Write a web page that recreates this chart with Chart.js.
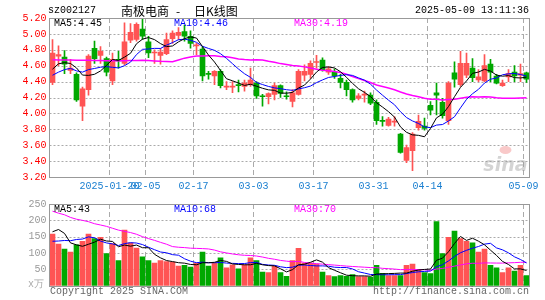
<!DOCTYPE html>
<html>
<head>
<meta charset="utf-8">
<script src="https://cdn.jsdelivr.net/npm/chart.js@4.4.1/dist/chart.umd.min.js"></script>
<style>
body { margin: 0; background: #fff; }
#wrap { position: relative; width: 545px; height: 300px; overflow: hidden; font-family: 'Liberation Mono', monospace; font-size: 10px; }
.t { position: absolute; white-space: pre; line-height: 12px; }
.cjk { font-family: 'Noto Sans CJK SC', sans-serif; font-size: 12px; line-height: 14px; }
canvas { position: absolute; left: 0; }
</style>
</head>
<body>
<div id="wrap">
  <canvas id="kline" width="545" height="195" style="top:0"></canvas>
  <canvas id="vol" width="545" height="105" style="top:195px"></canvas>
  <div class="t" style="left:48px;top:5px">sz002127</div>
  <div class="t cjk" style="left:121px;top:4px">南极电商</div>
  <div class="t cjk" style="left:176px;top:4px">-</div>
  <div class="t cjk" style="left:194px;top:4px">日K线图</div>
  <div class="t" style="right:16px;top:5px">2025-05-09 13:11:36</div>
  <div class="t" style="left:28px;top:279px;color:#aaa">x万</div>
  <div class="t" style="left:50px;top:286px;color:#666">Copyright 2025 SINA.COM</div>
  <div class="t" style="right:16px;top:286px;color:#666">http://finance.sina.com.cn</div>
</div>
<script>
// trading days 2025-01-06 .. 2025-05-09
const dates = [
  '01-06','01-07','01-08','01-09','01-10','01-13','01-14','01-15','01-16','01-17',
  '01-20','01-21','01-22','01-23','01-24','01-27','02-05','02-06','02-07','02-10',
  '02-11','02-12','02-13','02-14','02-17','02-18','02-19','02-20','02-21','02-24',
  '02-25','02-26','02-27','02-28','03-03','03-04','03-05','03-06','03-07','03-10',
  '03-11','03-12','03-13','03-14','03-17','03-18','03-19','03-20','03-21','03-24',
  '03-25','03-26','03-27','03-28','03-31','04-01','04-02','04-03','04-07','04-08',
  '04-09','04-10','04-11','04-14','04-15','04-16','04-17','04-18','04-21','04-22',
  '04-23','04-24','04-25','04-28','04-29','04-30','05-06','05-07','05-08','05-09'
];
const tickDates = ['01-20','02-05','02-17','03-03','03-17','03-31','04-14','05-09'];
const tickText  = ['2025-01-20','02-05','02-17','03-03','03-17','03-31','04-14','05-09'];

const opens = [
  4.39,4.72,4.71,4.54,4.49,4.09,4.30,4.82,4.73,4.69,
  4.41,4.68,4.63,4.92,4.93,5.06,4.90,4.76,4.73,4.75,
  4.94,4.98,5.03,4.97,4.85,4.81,4.50,4.47,4.53,4.33,
  4.33,4.36,4.34,4.36,4.38,4.22,4.21,4.24,4.35,4.22,
  4.15,4.24,4.48,4.49,4.64,4.67,4.52,4.52,4.44,4.39,
  4.30,4.19,4.23,4.23,4.14,3.91,3.85,3.89,3.74,3.41,
  3.53,3.82,3.84,4.10,4.26,4.14,3.91,4.51,4.36,4.48,
  4.57,4.42,4.41,4.62,4.47,4.35,4.46,4.52,4.48,4.51
];
const highs = [
  4.93,4.85,4.79,4.68,4.51,4.33,4.74,4.91,4.84,4.71,
  4.76,4.78,5.14,5.13,5.14,5.20,4.97,4.80,4.82,5.01,
  5.04,5.08,5.11,5.04,4.88,4.84,4.53,4.54,4.55,4.40,
  4.40,4.42,4.42,4.57,4.40,4.24,4.26,4.38,4.36,4.27,
  4.30,4.55,4.61,4.66,4.73,4.70,4.59,4.56,4.49,4.42,
  4.31,4.25,4.28,4.26,4.17,3.96,3.95,3.96,3.75,3.60,
  3.76,3.98,3.94,4.15,4.38,4.19,4.40,4.65,4.78,4.76,
  4.69,4.55,4.74,4.68,4.49,4.42,4.55,4.60,4.62,4.52
];
const lows = [
  4.36,4.60,4.50,4.50,4.15,3.91,4.23,4.63,4.63,4.47,
  4.36,4.57,4.61,4.89,4.91,4.93,4.70,4.63,4.62,4.74,
  4.88,4.93,4.91,4.82,4.74,4.41,4.43,4.36,4.32,4.30,
  4.26,4.27,4.28,4.34,4.19,4.09,4.12,4.17,4.20,4.18,
  4.08,4.23,4.41,4.44,4.57,4.53,4.49,4.44,4.32,4.22,
  4.14,4.17,4.14,4.11,3.86,3.84,3.84,3.84,3.50,3.38,
  3.28,3.79,3.79,3.98,3.98,3.94,3.86,4.33,4.34,4.45,
  4.40,4.40,4.40,4.40,4.37,4.34,4.40,4.40,4.40,4.39
];
const closes = [
  4.76,4.74,4.62,4.57,4.17,4.31,4.72,4.69,4.78,4.52,
  4.68,4.66,4.90,5.02,5.12,4.97,4.76,4.77,4.77,4.93,
  5.01,5.02,4.97,4.88,4.86,4.47,4.49,4.53,4.35,4.34,
  4.34,4.35,4.38,4.42,4.22,4.21,4.25,4.35,4.25,4.21,
  4.26,4.53,4.53,4.63,4.65,4.55,4.56,4.47,4.39,4.30,
  4.17,4.22,4.24,4.13,3.91,3.90,3.93,3.90,3.51,3.57,
  3.74,3.90,3.81,4.04,4.23,3.97,4.38,4.43,4.63,4.63,
  4.45,4.46,4.60,4.52,4.38,4.38,4.50,4.47,4.50,4.43
];
// closes before the window, only used for the moving averages
const preCloses = [
  4.80,4.62,4.60,4.25,4.30,4.78,4.72,4.80,4.60,4.70,
  4.70,4.85,4.98,5.05,4.95,4.82,4.90,4.95,5.02,5.05,
  4.35,4.30,4.42,4.48,4.47,4.40,4.55,4.62,4.45
];
// volume, 万
const volumes = [
  158,127,112,103,125,136,158,144,148,98,
  129,77,170,131,115,88,77,69,77,74,
  72,60,62,57,69,103,60,69,85,55,
  64,52,64,85,77,42,40,60,40,29,
  77,114,69,69,66,42,31,28,31,29,
  34,28,28,26,62,38,31,31,31,62,
  66,50,40,37,196,98,148,167,144,136,
  131,103,112,62,55,40,55,45,62,31
];
const preVolumes = [
  310,260,345,290,240,280,330,265,225,300,
  250,285,240,270,310,255,230,260,245,290,
  120,95,110,88,122,92,172,248,155
];
const priceLabels = [['MA5:4.45', '#000000', 54], ['MA10:4.46', '#0000ff', 174], ['MA30:4.19', '#ff00ff', 294]];
const volLabels = [['MA5:43', '#000000', 54], ['MA10:68', '#0000ff', 174], ['MA30:70', '#ff00ff', 294]];

const RED = '#ff5454';
const GREEN = '#00a800';
const FONT = { family: 'Liberation Mono', size: 10 };

function movingAvg(pre, vals, n) {
    const all = pre.concat(vals);
    return vals.map((v, i) => {
        const end = pre.length + i;
        let s = 0;
        for (let k = end - n + 1; k <= end; k++) s += all[k];
        return s / n;
    });
}

const tickIdx = tickDates.map(d => dates.indexOf(d));
const colors = closes.map((c, i) => c >= opens[i] ? RED : GREEN);

const framePlugin = {
    id: 'frame',
    beforeDatasetsDraw(chart, args, opts) {
        const { ctx, chartArea: a, scales } = chart;
        const x = scales.x, y = scales.y;
        ctx.save();
        ctx.lineWidth = 1;
        ctx.strokeStyle = '#aaaaaa';
        ctx.setLineDash([2, 2]);
        y.ticks.forEach(t => {
            if (t.value <= y.min || t.value >= y.max) return;
            const py = Math.round(y.getPixelForValue(t.value)) + 0.5;
            ctx.beginPath(); ctx.moveTo(a.left, py); ctx.lineTo(a.right, py); ctx.stroke();
        });
        ctx.setLineDash([5, 3]);
        tickIdx.forEach(i => {
            const px = Math.floor(x.getPixelForValue(i) - 3) + 0.5;
            ctx.beginPath(); ctx.moveTo(px, a.top); ctx.lineTo(px, a.bottom); ctx.stroke();
        });
        ctx.setLineDash([]);
        if (opts.watermark) {
            ctx.font = 'italic bold 19px "DejaVu Sans"';
            ctx.fillStyle = 'rgba(160,160,160,0.45)';
            ctx.textAlign = 'right';
            ctx.textBaseline = 'alphabetic';
            ctx.fillText('sina', a.right - 2, a.bottom - 6);
            ctx.fillStyle = 'rgba(240,120,120,0.4)';
            ctx.beginPath(); ctx.ellipse(a.right - 24, a.bottom - 27, 6, 4, 0, 0, Math.PI * 2); ctx.fill();
        }
        ctx.restore();
    },
    afterDraw(chart, args, opts) {
        const { ctx, chartArea: a } = chart;
        ctx.save();
        ctx.strokeStyle = '#999999';
        ctx.lineWidth = 1;
        const l = Math.floor(a.left) + 0.5, t = Math.round(a.top) + 0.5;
        const r = Math.floor(a.right) + 0.5, b = Math.round(a.bottom) + 0.5;
        ctx.strokeRect(l, t, r - l, b - t);
        ctx.font = '10px "Liberation Mono"';
        ctx.textBaseline = 'middle';
        (opts.labels || []).forEach(([txt, col, px]) => {
            ctx.fillStyle = col;
            ctx.fillText(txt, px, a.top + 5);
        });
        ctx.restore();
    }
};

function lineSet(data, color, width) {
    return { type: 'line', data: data, borderColor: color, borderWidth: width, pointRadius: 0, tension: 0, order: 0 };
}

new Chart(document.getElementById('kline'), {
    type: 'bar',
    data: {
        labels: dates,
        datasets: [
            lineSet(movingAvg(preCloses, closes, 5), '#000000', 1),
            lineSet(movingAvg(preCloses, closes, 10), '#0000ff', 1),
            lineSet(movingAvg(preCloses, closes, 30), '#ff00ff', 1.5),
            {
                data: opens.map((o, i) => [o, closes[i]]),
                backgroundColor: colors, barThickness: 5, grouped: false, minBarLength: 1, order: 1
            },
            {
                data: lows.map((l, i) => [l, highs[i]]),
                backgroundColor: colors, barThickness: 1, grouped: false, order: 2
            }
        ]
    },
    options: {
        responsive: false,
        animation: false,
        layout: { padding: { top: 18, right: 15.5, left: 0, bottom: 0 } },
        plugins: { legend: { display: false }, tooltip: { enabled: false }, frame: { labels: priceLabels, watermark: true } },
        scales: {
            x: {
                offset: true,
                grid: { display: false, drawTicks: false },
                border: { display: false },
                ticks: {
                    autoSkip: false, maxRotation: 0, minRotation: 0, labelOffset: -3, padding: 3,
                    color: '#1a7fd0', font: FONT,
                    callback: (v, i) => { const k = tickIdx.indexOf(i); return k >= 0 ? tickText[k] : ''; }
                },
                afterFit: s => { s.height = 18; }
            },
            y: {
                min: 3.2, max: 5.2,
                grid: { display: false, drawTicks: false },
                border: { display: false },
                ticks: { stepSize: 0.2, padding: 3, color: '#ff0000', font: FONT, callback: v => v.toFixed(2) },
                afterFit: s => { s.width = 49.5; }
            }
        }
    },
    plugins: [framePlugin]
});

new Chart(document.getElementById('vol'), {
    type: 'bar',
    data: {
        labels: dates,
        datasets: [
            lineSet(movingAvg(preVolumes, volumes, 5), '#000000', 1),
            lineSet(movingAvg(preVolumes, volumes, 10), '#0000ff', 1),
            lineSet(movingAvg(preVolumes, volumes, 30), '#ff00ff', 1),
            { data: volumes, backgroundColor: colors, barThickness: 5, order: 1 }
        ]
    },
    options: {
        responsive: false,
        animation: false,
        layout: { padding: { top: 6, right: 15.5, left: 0, bottom: 14.3 } },
        plugins: { legend: { display: false }, tooltip: { enabled: false }, frame: { labels: volLabels } },
        scales: {
            x: { display: false, offset: true },
            y: {
                min: 0, max: 250,
                grid: { display: false, drawTicks: false },
                border: { display: false },
                ticks: { stepSize: 50, padding: 3, color: '#999999', font: FONT, callback: v => v === 0 ? '' : v },
                afterFit: s => { s.width = 49.5; }
            }
        }
    },
    plugins: [framePlugin]
});
</script>
</body>
</html>
